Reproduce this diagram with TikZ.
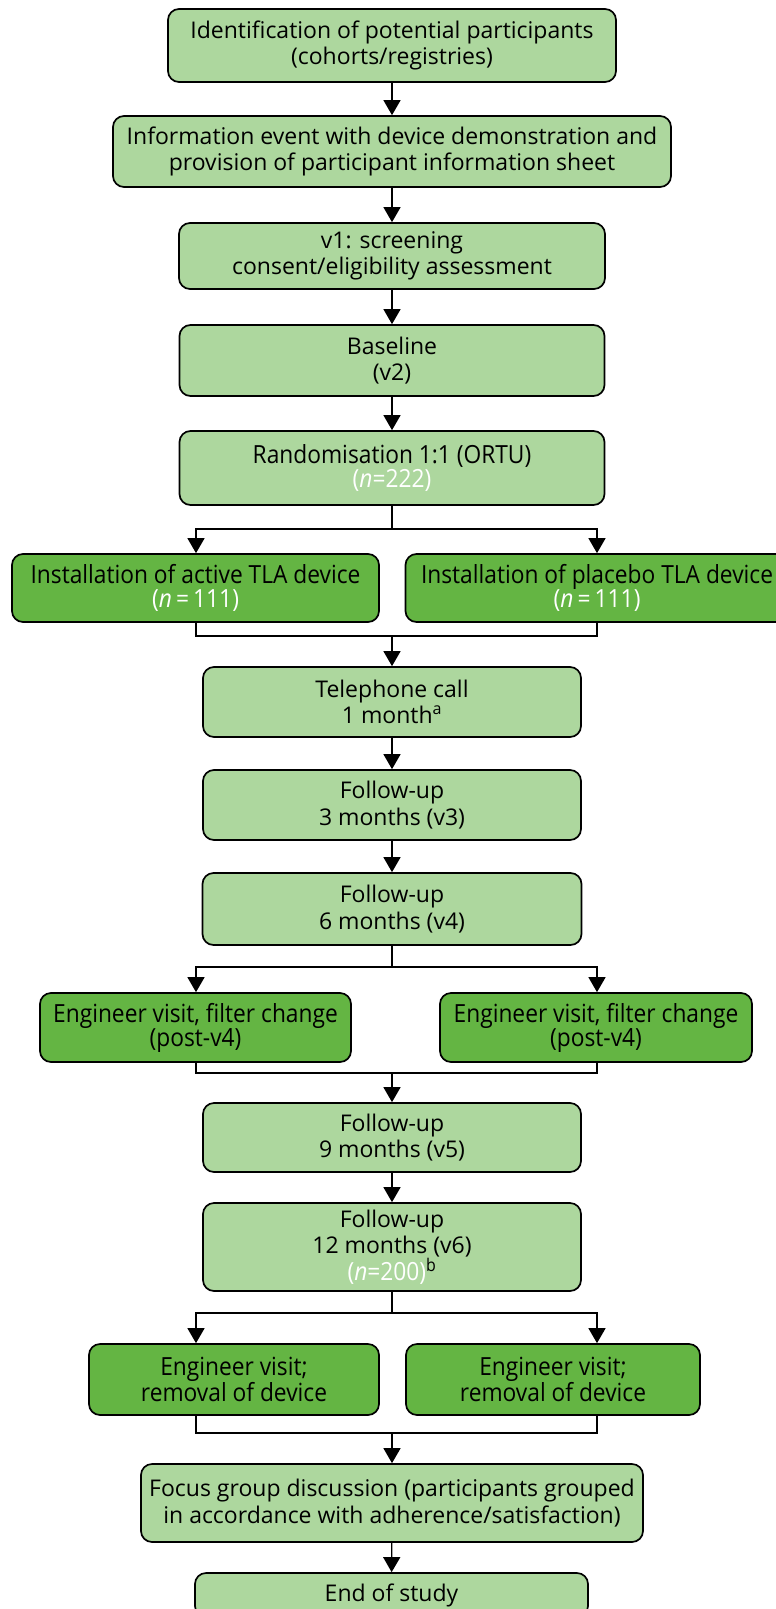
\documentclass[tikz,border=0pt]{standalone}
\usepackage{fontspec}
\setmainfont{Open Sans}
\newfontfamily\condf[FakeStretch=0.91]{Open Sans}
\usetikzlibrary{arrows.meta}
\definecolor{lg}{RGB}{173,215,158}
\definecolor{dg}{RGB}{100,181,67}
\newcommand\myreg{\fontsize{23}{26.5}\selectfont}
\newcommand\mycond{\condf\fontsize{25}{24}\selectfont}
\newcommand\wn[1]{\textcolor{white}{#1}}
\begin{document}
\begin{tikzpicture}[x=1pt,y=-1pt,
  box/.style={draw=black, line width=1.7pt, rounded corners=11pt, fill=lg, align=center, inner sep=0pt, font=\myreg},
  dbox/.style={box, fill=dg, font=\mycond},
  arr/.style={line width=1.4pt, -{Triangle[width=17pt,length=15pt]}},
  ln/.style={line width=1.4pt}]
\useasboundingbox (0,0) rectangle (776,1609);
\clip (0,0) rectangle (776,1609);
\fill[white] (0,0) rectangle (776,1609);

\node[box, minimum width=448pt, minimum height=73pt] (b1) at (392,45.5) {Identification of potential participants\\(cohorts/registries)};
\node[box, minimum width=558pt, minimum height=71pt] (b2) at (392,151.5) {Information event with device demonstration and\\provision of participant information sheet};
\node[box, minimum width=426pt, minimum height=66pt] (b3) at (392,256) {v1: screening\\consent/eligibility assessment};
\node[box, minimum width=425pt, minimum height=71pt] (b4) at (392,360.5) {Baseline\\(v2)};
\node[box, minimum width=425pt, minimum height=74pt, font=\mycond] (rand) at (392,468) {Randomisation 1:1 (ORTU)\\\wn{(\textit{n}=222)}};

\node[dbox, minimum width=367pt, minimum height=68pt] (act) at (195.5,588) {Installation of active TLA device\\\wn{(\textit{n}\,=\,111)}};
\node[dbox, minimum width=383pt, minimum height=68pt] (plac) at (597,588) {Installation of placebo TLA device\\\wn{(\textit{n}\,=\,111)}};

\node[box, minimum width=378pt, minimum height=70pt] (tel) at (392,702) {Telephone call\\1 month\textsuperscript{a}};
\node[box, minimum width=378pt, minimum height=70pt] (fu3) at (392,805) {Follow-up\\3 months (v3)};
\node[box, minimum width=379pt, minimum height=72pt] (fu6) at (392,909) {Follow-up\\6 months (v4)};

\node[dbox, minimum width=311pt, minimum height=69pt] (engL) at (195.5,1027.5) {Engineer visit, filter change\\(post-v4)};
\node[dbox, minimum width=312pt, minimum height=69pt] (engR) at (596,1027.5) {Engineer visit, filter change\\(post-v4)};

\node[box, minimum width=378pt, minimum height=69pt] (fu9) at (392,1137.5) {Follow-up\\9 months (v5)};
\node[box, minimum width=378pt, minimum height=88pt] (fu12) at (392,1247) {Follow-up\\12 months (v6)\\{\mycond\wn{(\textit{n}=200)}\textsuperscript{b}}};

\node[dbox, minimum width=290pt, minimum height=71pt] (rmL) at (234,1379.5) {Engineer visit;\\removal of device};
\node[dbox, minimum width=294pt, minimum height=71pt] (rmR) at (553,1379.5) {Engineer visit;\\removal of device};

\node[box, minimum width=502pt, minimum height=78pt] (focus) at (392,1503) {Focus group discussion (participants grouped\\in accordance with adherence/satisfaction)};
\node[box, minimum width=393pt, minimum height=44pt] (end) at (391.5,1595) {End of study};

\coordinate (L) at (196,0);
\coordinate (R) at (597,0);
\coordinate (s1) at (392,529);
\coordinate (m1) at (392,636);
\coordinate (s2) at (392,967);
\coordinate (m2) at (392,1073);
\coordinate (s3) at (392,1313);
\coordinate (m3) at (392,1433);

\draw[arr] (b1) -- (b2);
\draw[arr] (b2) -- (b3);
\draw[arr] (b3) -- (b4);
\draw[arr] (b4) -- (rand);

\draw[ln] (rand.south) -- (s1);
\draw[arr] (s1) -| (act.north -| L);
\draw[arr] (s1) -| (plac.north -| R);
\draw[ln] (act.south -| L) |- (m1) -| (plac.south -| R);
\draw[arr] (m1) -- (tel.north);

\draw[arr] (tel) -- (fu3);
\draw[arr] (fu3) -- (fu6);

\draw[ln] (fu6.south) -- (s2);
\draw[arr] (s2) -| (engL.north -| L);
\draw[arr] (s2) -| (engR.north -| R);
\draw[ln] (engL.south -| L) |- (m2) -| (engR.south -| R);
\draw[arr] (m2) -- (fu9.north);

\draw[arr] (fu9) -- (fu12);

\draw[ln] (fu12.south) -- (s3);
\draw[arr] (s3) -| (rmL.north -| L);
\draw[arr] (s3) -| (rmR.north -| R);
\draw[ln] (rmL.south -| L) |- (m3) -| (rmR.south -| R);
\draw[arr] (m3) -- (focus.north);

\draw[arr] (focus) -- (end);
\end{tikzpicture}
\end{document}
